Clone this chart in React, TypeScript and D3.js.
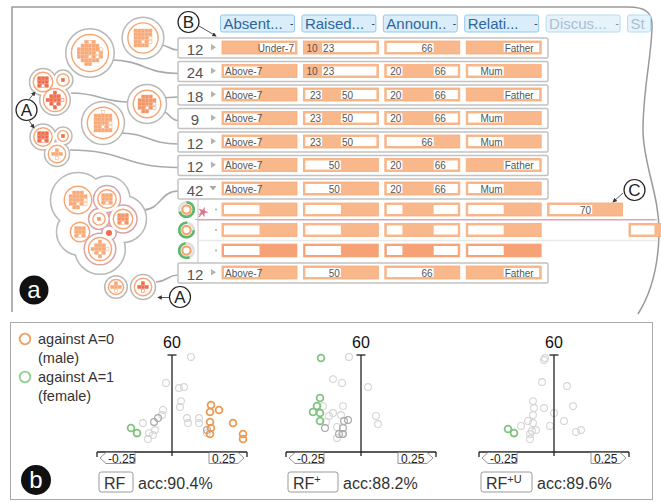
import React from "react";
import * as d3 from "d3";

const FONT = "'Liberation Sans', Arial, Helvetica, sans-serif";

// ---------- panel a: rule list ----------
const columnNames = ["Absent...", "Raised...", "Announ..", "Relati...", "Discus...", "St"];
const columnActive = [true, true, true, true, false, false];

const ruleCounts = [12, 24, 18, 9, 12, 12, 42, 12];
const ruleAbsent = ["Under-7", "Above-7", "Above-7", "Above-7", "Above-7", "Above-7", "Above-7", "Above-7"];
const ruleRaised: [number | null, number | null][] = [
  [10, 23], [10, 23], [23, 50], [23, 50], [23, 50], [50, null], [50, null], [50, null],
];
const ruleAnnoun: [number | null, number | null][] = [
  [66, null], [20, 66], [20, 66], [20, 66], [66, null], [20, 66], [20, 66], [66, null],
];
const ruleRelation = ["Father", "Mum", "Father", "Mum", "Mum", "Father", "Mum", "Father"];
const expandedRule = 6;

// instances under the expanded rule
const instAbsent = ["Above-7", "Above-7", "Above-7"];
const instRaised: [number | null, number | null][] = [[50, null], [50, null], [50, null]];
const instAnnoun: [number | null, number | null][] = [[20, 66], [20, 66], [20, 66]];
const instRelation = ["Mum", "Mum", "Mum"];
const instDiscus: ([number | null, number | null] | null)[] = [[70, null], null, null];
const instSt: ([number | null, number | null] | null)[] = [null, [30, null], null];
const instGreenStart = [0, 1.6, 2.7];
const instGreenShare = [0.7, 0.76, 0.55];
const instDark = [false, false, true];

const absentCats = ["Above-7", "Under-7"];
const relationCats = ["Mum", "Father"];
const raisedScale = d3.scaleLinear().domain([10, 23, 50, 100]).range([0, 0.235, 0.5, 1]);
const announScale = d3.scaleLinear().domain([0, 20, 66, 100]).range([0, 0.22, 0.66, 1]);
const discusScale = d3.scaleLinear().domain([0, 70, 100]).range([0, 0.6, 1]);
const stScale = d3.scaleLinear().domain([0, 30, 100]).range([0, 0.33, 1]);

// bubbles: instances per bubble, shade
const bubbleSize = [24, 36, 10, 4, 14, 20, 26, 9, 3, 8, 20, 9, 4, 10, 10, 1, 14, 6, 8];
const bubbleShade = ["l", "l", "r", "r", "r", "m", "l", "r", "r", "l", "l", "l", "m", "m", "l", "r", "l", "l", "r"];

// ---------- panel b: scatter plots ----------
const p1Grey = [[0.076, 58.8], [-0.024, 42.7], [0.028, 39.6], [0.048, 40.2], [0.036, 31.5], [0.032, 27.8], [-0.036, 26.0], [-0.04, 22.9], [-0.116, 17.9], [-0.068, 13.6], [-0.092, 11.7], [-0.076, 10.5], [-0.096, 8.0], [0.06, 21.0], [0.064, 17.9], [0.108, 21.0], [0.108, 17.9], [0.14, 11.7]];
const p1Dark = [[-0.056, 21.0], [-0.072, 18.6], [0.14, 13.6]];
const p1Orange = [[0.156, 29.1], [0.188, 26.0], [0.152, 24.7], [0.152, 18.6], [0.156, 14.8], [0.152, 11.1], [0.244, 17.9], [0.284, 11.1], [0.284, 8.0]];
const p1Green = [[-0.164, 14.8], [-0.14, 11.7]];

const p2Grey = [[-0.048, 58.8], [-0.112, 45.1], [-0.076, 42.7], [0.028, 40.2], [-0.152, 28.4], [-0.072, 28.4], [-0.112, 24.1], [-0.128, 22.3], [-0.08, 22.9], [-0.14, 18.6], [0.06, 22.3], [0.068, 17.3], [-0.096, 15.5], [-0.096, 8.7], [-0.076, 11.1]];
const p2Dark = [[-0.052, 19.8], [-0.068, 19.2], [-0.072, 14.8], [-0.144, 14.8], [-0.072, 11.1], [-0.088, 11.1]];
const p2Green = [[-0.16, 58.1], [-0.164, 33.4], [-0.176, 28.4], [-0.192, 24.7], [-0.164, 24.1], [-0.164, 19.2]];

const p3Grey = [[-0.036, 58.1], [-0.04, 56.9], [-0.048, 43.3], [0.052, 40.8], [-0.084, 31.5], [-0.08, 27.2], [-0.04, 27.2], [0.076, 28.4], [0.0, 24.1], [-0.084, 22.9], [-0.104, 19.2], [-0.084, 17.9], [0.04, 19.2], [-0.132, 16.1], [-0.016, 16.1], [-0.072, 13.6], [-0.088, 13.0], [-0.096, 11.1], [-0.096, 8.0], [0.088, 12.4], [0.108, 13.6]];
const p3Green = [[-0.184, 14.2], [-0.16, 11.7]];

const models = ["RF", "RF", "RF"];
const modelSup = ["", "+", "+U"];
const accuracies = ["acc:90.4%", "acc:88.2%", "acc:89.6%"];
const xTickLabels = ["-0.25", "0.25"];
const yTopLabel = "60";

// ---------- layout ----------
const ORANGE = "#f9b88b";
const ORANGE_DARK = "#f6a176";
const ORANGE_EDGE = "#f7ac7d";
const GREY_LINE = "#c2c2c2";
const colX = d3.range(6).map((i) => 222 + i * 81.4);
const CELL_W = 75;
const rowTop = (i: number) => (i <= expandedRule ? 38 + i * 23.5 : 263);
const subTop = (j: number) => 200 + j * 20.5;

const shadeColor: Record<string, string> = { l: "#f8a977", m: "#f39466", r: "#ee6d4d" };
const radius = d3.scaleSqrt().domain([0, 36]).range([0, 18.5]);

// positions of bubbles and the group each belongs to
const bubbleXY = [
  [143, 38], [90, 53], [43, 82], [63, 80], [55, 100], [147, 104], [103, 123],
  [43, 137], [63, 136], [57, 154],
  [78, 200], [107, 199], [99, 219], [123, 219], [80, 232], [109, 233], [100, 249],
  [116, 287], [143, 287],
];
const bubbleGroup = [0, 1, 2, 2, 2, 3, 4, 5, 5, 5, 6, 6, 6, 6, 6, 6, 6, 7, 7];
const groupPad = [5, 5, 3, 5, 5, 3, 13, 3];
const pinkGroup = [11, 12, 13, 15, 16];

const links: [number, number, number, number][] = [
  [160, 45, 178, rowTop(0) + 12],
  [110, 60, 178, rowTop(1) + 12],
  [71, 93, 130, 102],
  [160, 98, 178, rowTop(2) + 12],
  [161, 111, 178, rowTop(3) + 12],
  [119, 133, 178, rowTop(4) + 12],
  [70, 150, 178, rowTop(5) + 12],
  [143, 210, 178, rowTop(6) + 12],
  [156, 282, 178, rowTop(7) + 12],
];

const SQ = 3.1;

function packSquares(n: number, r: number, s = SQ, gap = 0.6) {
  const step = s + gap;
  const k = Math.ceil(r / step) + 1;
  const cells: [number, number][] = [];
  for (let i = -k; i <= k; i++)
    for (let j = -k; j <= k; j++) {
      const x = i * step;
      const y = j * step;
      if (Math.hypot(Math.abs(x) + s / 2, Math.abs(y) + s / 2) <= r - 1.3) cells.push([x, y]);
    }
  cells.sort((a, b) => Math.hypot(a[0], a[1]) - Math.hypot(b[0], b[1]) || a[1] - b[1] || a[0] - b[0]);
  return cells.slice(0, n);
}

type Lbl = { x: number; anchor: string; t: string };

function Cell({ x, y, whites, labels, fill }: { x: number; y: number; whites: [number, number][]; labels: Lbl[]; fill: string }) {
  const inner = d3.scaleLinear().domain([0, 1]).range([x + 2, x + CELL_W - 2]);
  return (
    <g>
      <rect x={x} y={y} width={CELL_W} height={13} fill={fill} stroke={ORANGE_EDGE} strokeWidth={0.8} />
      {whites.map(([a, b], i) => (
        <rect key={i} x={inner(a)} y={y + 2} width={inner(b) - inner(a)} height={9} fill="#fff" />
      ))}
      {labels.map((l, i) => (
        <text key={i} x={l.x} y={y + 10.6} fontSize={10} fill="#555" textAnchor={l.anchor}>
          {l.t}
        </text>
      ))}
    </g>
  );
}

function numCell(x: number, y: number, scale: d3.ScaleLinear<number, number>, range: [number | null, number | null], showLabels: boolean, fill: string) {
  const inner = d3.scaleLinear().domain([0, 1]).range([x + 2, x + CELL_W - 2]);
  const whites: [number, number][] = [];
  const labels: Lbl[] = [];
  const [lo, hi] = range;
  if (lo != null) {
    const p = scale(lo);
    if (p > 0.03) whites.push([0, p]);
    if (showLabels)
      labels.push(p < 0.05 ? { x: inner(0) + 1, anchor: "start", t: String(lo) } : { x: inner(p) - 1, anchor: "end", t: String(lo) });
  }
  if (hi != null) {
    const p = scale(hi);
    whites.push([p, 1]);
    if (showLabels) labels.push({ x: inner(p) + 1, anchor: "start", t: String(hi) });
  }
  return <Cell x={x} y={y} whites={whites} labels={labels} fill={fill} />;
}

function catCell(x: number, y: number, cats: string[], value: string, labelOuter: boolean, showLabels: boolean, fill: string) {
  const band = d3.scaleBand().domain(cats).range([0, 1]);
  const inner = d3.scaleLinear().domain([0, 1]).range([x + 2, x + CELL_W - 2]);
  const a = band(value) ?? 0;
  const b = a + band.bandwidth();
  const first = a < 0.01;
  const labels: Lbl[] = [];
  if (showLabels) {
    if (labelOuter) labels.push(first ? { x: inner(a) + 1, anchor: "start", t: value } : { x: inner(b) - 1, anchor: "end", t: value });
    else labels.push(first ? { x: inner(b) - 1, anchor: "end", t: value } : { x: inner(a) + 1, anchor: "start", t: value });
  }
  return <Cell x={x} y={y} whites={[[a, b]]} labels={labels} fill={fill} />;
}

function Circled({ x, y, letter, arrows }: { x: number; y: number; letter: string; arrows: [number, number, number, number][] }) {
  return (
    <g>
      <circle cx={x} cy={y} r={10.5} fill="#fff" stroke="#222" strokeWidth={1.2} />
      <text x={x} y={y + 6} fontSize={17} textAnchor="middle" fill="#222">
        {letter}
      </text>
      {arrows.map((a, i) => (
        <line key={i} x1={a[0]} y1={a[1]} x2={a[2]} y2={a[3]} stroke="#444" strokeWidth={0.9} markerEnd="url(#arr)" />
      ))}
    </g>
  );
}

function Scatter({ cx, grey, dark, orange, green, i }: { cx: number; grey: number[][]; dark: number[][]; orange: number[][]; green: number[][]; i: number }) {
  const x = d3.scaleLinear().domain([-0.3, 0.3]).range([cx - 75, cx + 75]);
  const y = d3.scaleLinear().domain([0, 60]).range([452, 355]);
  const L = x(-0.3);
  const R = x(0.3);
  const y0 = y(0);
  const dot = (pts: number[][], color: string, w: number) =>
    pts.map((p, k) => <circle key={color + k} cx={x(p[0])} cy={y(p[1])} r={3.4} fill="none" stroke={color} strokeWidth={w} />);
  const boxW = i === 2 ? 51 : i === 1 ? 50 : 34;
  const boxX = cx - 73;
  return (
    <g>
      {dot(grey, "#d4d4d4", 1.1)}
      {dot(dark, "#a9a9a9", 1.2)}
      {dot(orange, "#eb9a52", 1.8)}
      {dot(green, "#7fc47f", 1.8)}
      <line x1={cx} y1={y(60)} x2={cx} y2={y0 + 4} stroke="#222" strokeWidth={1.3} />
      <line x1={cx - 4.5} y1={y(60)} x2={cx + 4.5} y2={y(60)} stroke="#222" strokeWidth={1.3} />
      <line x1={L} y1={y0} x2={R} y2={y0} stroke="#222" strokeWidth={1.3} />
      <line x1={L} y1={y0} x2={L} y2={y0 + 5} stroke="#222" strokeWidth={1.3} />
      <line x1={R} y1={y0} x2={R} y2={y0 + 5} stroke="#222" strokeWidth={1.3} />
      <text x={cx} y={y(60) - 7} fontSize={16} textAnchor="middle" fill="#111">
        {yTopLabel}
      </text>
      <path
        d={`M${L + 3},${y0 + 6} L${L + 9},${y0 + 0.5} L${L + 38},${y0 + 0.5} L${L + 38},${y0 + 11.5} L${L + 9},${y0 + 11.5} Z`}
        fill="#fff"
        stroke="#777"
        strokeWidth={0.8}
      />
      <text x={L + 11} y={y0 + 10.5} fontSize={12} fill="#222">
        {xTickLabels[0]}
      </text>
      <path
        d={`M${R - 3},${y0 + 6} L${R - 9},${y0 + 0.5} L${R - 38},${y0 + 0.5} L${R - 38},${y0 + 11.5} L${R - 9},${y0 + 11.5} Z`}
        fill="#fff"
        stroke="#777"
        strokeWidth={0.8}
      />
      <text x={R - 35} y={y0 + 10.5} fontSize={12} fill="#222">
        {xTickLabels[1]}
      </text>
      <rect x={boxX} y={472} width={boxW} height={20} rx={2.5} fill="#fff" stroke="#999" strokeWidth={1} />
      <text x={boxX + 5} y={488.5} fontSize={16} fill="#333">
        {models[i]}
        {modelSup[i] && (
          <tspan dy={-6} fontSize={11}>
            {modelSup[i]}
          </tspan>
        )}
      </text>
      <text x={boxX + boxW + 5} y={488.5} fontSize={16} fill="#333">
        {accuracies[i]}
      </text>
    </g>
  );
}

export default function App() {
  const linkGen = d3.linkHorizontal();
  const rowIdx = d3.range(ruleCounts.length);

  const groups = d3.group(d3.range(bubbleSize.length), (i) => bubbleGroup[i]);

  const rowCells = (i: number, top: number) => {
    const y = top + 3;
    return (
      <g key={"c" + i}>
        {catCell(colX[0], y, absentCats, ruleAbsent[i], true, true, ORANGE)}
        {numCell(colX[1], y, raisedScale, ruleRaised[i], true, ORANGE)}
        {numCell(colX[2], y, announScale, ruleAnnoun[i], true, ORANGE)}
        {catCell(colX[3], y, relationCats, ruleRelation[i], false, true, ORANGE)}
      </g>
    );
  };

  return (
    <svg width={661} height={503} style={{ position: "absolute", left: 0, top: 0, fontFamily: FONT }}>
      <defs>
        <marker id="arr" viewBox="0 0 6 6" refX={5} refY={3} markerWidth={5} markerHeight={5} orient="auto">
          <path d="M0,0 L6,3 L0,6 z" fill="#333" />
        </marker>
      </defs>
      <rect width={661} height={503} fill="#fff" />

      {/* panel a frame */}
      <path
        d="M12,312 L12,7 L628,7 C645,7 653,12 652,28 C651,60 643,90 643,130 C643,165 660,195 659,235 C658,270 650,295 638,314"
        fill="none"
        stroke="#9a9a9a"
        strokeWidth={1.5}
      />

      {/* links */}
      {links.map((l, i) => (
        <path key={i} d={linkGen({ source: [l[0], l[1]], target: [l[2], l[3]] }) || ""} fill="none" stroke="#aaa" strokeWidth={1.6} />
      ))}

      {/* bubble groups: grey envelopes */}
      {Array.from(groups.entries()).map(([g, members]) => (
        <g key={"env" + g}>
          {members.map((m) => (
            <circle key={m} cx={bubbleXY[m][0]} cy={bubbleXY[m][1]} r={radius(bubbleSize[m]) + groupPad[g]} fill="#fff" stroke="#b9b9b9" strokeWidth={3} />
          ))}
          {members.map((m) => (
            <circle key={"f" + m} cx={bubbleXY[m][0]} cy={bubbleXY[m][1]} r={radius(bubbleSize[m]) + groupPad[g]} fill="#fff" />
          ))}
        </g>
      ))}
      <g>
        {pinkGroup.map((m) => (
          <circle key={m} cx={bubbleXY[m][0]} cy={bubbleXY[m][1]} r={radius(bubbleSize[m]) + 3.5} fill="#fff" stroke="#d9a3ab" strokeWidth={3} />
        ))}
        {pinkGroup.map((m) => (
          <circle key={"f" + m} cx={bubbleXY[m][0]} cy={bubbleXY[m][1]} r={radius(bubbleSize[m]) + 3.5} fill="#fff" />
        ))}
      </g>
      {bubbleSize.map((n, i) => {
        const [cx, cy] = bubbleXY[i];
        const r = radius(n);
        const col = shadeColor[bubbleShade[i]];
        if (n === 1) return <circle key={i} cx={cx} cy={cy} r={3} fill={col} />;
        const sq = packSquares(n, r);
        return (
          <g key={i}>
            <circle cx={cx} cy={cy} r={r} fill="#fff" stroke="#f6a672" strokeWidth={1.4} />
            {sq.map((p, k) => (
              <rect
                key={k}
                x={cx + p[0] - SQ / 2}
                y={cy + p[1] - SQ / 2}
                width={SQ}
                height={SQ}
                fill={k % 7 === 4 ? "#fff" : col}
                stroke={col}
                strokeWidth={0.5}
              />
            ))}
          </g>
        );
      })}

      {/* headers */}
      {columnNames.map((h, i) => (
        <g key={h}>
          <rect x={colX[i] - 1.5} y={15} width={i === 5 ? 23 : 74} height={17} rx={2} fill={columnActive[i] ? "#d9eefa" : "#e6f3fb"} stroke={columnActive[i] ? "#93c9ec" : "#b5dcf2"} strokeWidth={1} />
          <text x={colX[i] + 1.5} y={29} fontSize={15} fill={columnActive[i] ? "#2f66a0" : "#a9bfd3"}>
            {h}
          </text>
          {i < 5 && (
            <text x={colX[i] + 68} y={27} fontSize={10} fill={columnActive[i] ? "#333" : "#888"}>
              -
            </text>
          )}
        </g>
      ))}

      {/* rule rows */}
      {rowIdx.map((i) => {
        const top = rowTop(i);
        return (
          <g key={"r" + i}>
            <rect x={178} y={top} width={370} height={20} rx={1.5} fill="#fff" stroke={GREY_LINE} strokeWidth={1.5} />
            <text x={195} y={top + 16.5} fontSize={15} textAnchor="middle" fill="#555">
              {ruleCounts[i]}
            </text>
            {i === expandedRule ? (
              <path d={`M209.5,${top + 7} L216.5,${top + 7} L213,${top + 11.5} Z`} fill="#aaa" />
            ) : (
              <path d={`M211,${top + 6} L211,${top + 12.5} L216,${top + 9.2} Z`} fill="#b3b3b3" />
            )}
            {rowCells(i, top)}
          </g>
        );
      })}

      {/* instance rows */}
      <line x1={198} y1={199.5} x2={198} y2={262} stroke="#cfcfcf" strokeWidth={1.2} />
      {instAbsent.map((_, j) => {
        const top = subTop(j);
        const y = top + 3;
        const fill = instDark[j] ? ORANGE_DARK : ORANGE;
        const cy = top + 9.5;
        const arc = d3.arc()({
          innerRadius: 6,
          outerRadius: 8.6,
          startAngle: instGreenStart[j],
          endAngle: instGreenStart[j] + instGreenShare[j] * 2 * Math.PI,
        }) || "";
        return (
          <g key={"s" + j}>
            {j > 0 && <line x1={198} y1={top - 0.5} x2={657} y2={top - 0.5} stroke={j === 1 ? "#e0a3b1" : "#e9e9e9"} strokeWidth={j === 1 ? 1 : 1.5} />}
            <circle cx={186.5} cy={cy} r={7.3} fill="#fff" stroke="#dedede" strokeWidth={2.6} />
            <path d={arc} transform={`translate(186.5,${cy})`} fill="#5cb86a" />
            <circle cx={186.5} cy={cy} r={4.2} fill="#fff" stroke="#f4a46c" strokeWidth={2.2} />
            <circle cx={216} cy={cy} r={1} fill="#aaa" />
            {catCell(colX[0], y, absentCats, instAbsent[j], true, false, fill)}
            {numCell(colX[1], y, raisedScale, instRaised[j], false, fill)}
            {numCell(colX[2], y, announScale, instAnnoun[j], false, fill)}
            {catCell(colX[3], y, relationCats, instRelation[j], false, false, fill)}
            {instDiscus[j] && numCell(colX[4], y, discusScale, instDiscus[j]!, true, fill)}
            {instSt[j] && numCell(colX[5], y, stScale, instSt[j]!, false, fill)}
          </g>
        );
      })}
      <line x1={195} y1={219.5} x2={655} y2={219.5} stroke="#e0a3b1" strokeWidth={1} />
      <path d={d3.symbol(d3.symbolStar, 34)() || ""} transform="translate(203,212) rotate(20)" fill="#d97a8f" />
      <line x1={199} y1={217} x2={202} y2={213} stroke="#d97a8f" strokeWidth={1.2} />

      {/* annotations */}
      <Circled x={26.5} y={110} letter="A" arrows={[[29, 99.5, 35, 92], [29, 120.5, 34, 128]]} />
      <Circled x={188.5} y={22} letter="B" arrows={[[199, 26, 216, 36]]} />
      <Circled x={634.5} y={190} letter="C" arrows={[[623, 193, 613, 202]]} />
      <Circled x={180} y={297} letter="A" arrows={[[169, 297.5, 158, 297.5]]} />

      <circle cx={34} cy={290} r={14.5} fill="#111" />
      <text x={34} y={298} fontSize={24} textAnchor="middle" fill="#fff">
        a
      </text>

      {/* panel b */}
      <rect x={10.5} y={322.5} width={642} height={177} fill="none" stroke="#aaa" strokeWidth={1} />
      <circle cx={25} cy={339} r={5.3} fill="none" stroke="#eea060" strokeWidth={1.8} />
      <text x={38} y={343.5} fontSize={14.5} fill="#333">against A=0</text>
      <text x={38} y={362.5} fontSize={14.5} fill="#333">(male)</text>
      <circle cx={25} cy={377} r={5.3} fill="none" stroke="#8fd08f" strokeWidth={1.8} />
      <text x={38} y={381.5} fontSize={14.5} fill="#333">against A=1</text>
      <text x={38} y={400.5} fontSize={14.5} fill="#333">(female)</text>

      <Scatter cx={172} grey={p1Grey} dark={p1Dark} orange={p1Orange} green={p1Green} i={0} />
      <Scatter cx={361} grey={p2Grey} dark={p2Dark} orange={[]} green={p2Green} i={1} />
      <Scatter cx={554} grey={p3Grey} dark={[]} orange={[]} green={p3Green} i={2} />

      <circle cx={36} cy={480} r={15} fill="#111" />
      <text x={36} y={488} fontSize={24} textAnchor="middle" fill="#fff">
        b
      </text>
    </svg>
  );
}
